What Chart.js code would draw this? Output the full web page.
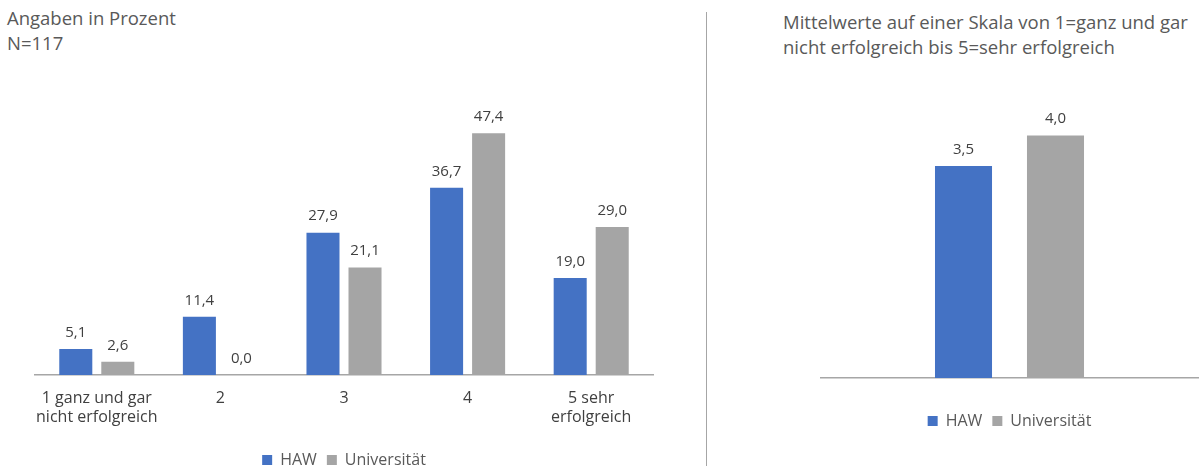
<!DOCTYPE html>
<html>
<head>
<meta charset="utf-8">
<script src="https://cdn.jsdelivr.net/npm/chart.js@4.4.1/dist/chart.umd.min.js"></script>
<style>
  html, body { margin: 0; padding: 0; background: #fff; overflow: hidden; }
  body { width: 1200px; height: 466px; position: relative; font-family: "Open Sans", sans-serif; }
  .title { position: absolute; color: #595959; font-size: 18.5px; line-height: 25px; white-space: nowrap; }
  .box { position: absolute; }
  #sep { position: absolute; left: 706px; top: 12px; width: 0; height: 460px; border-left: 1px solid #a6a6a6; }
</style>
</head>
<body>
<div class="title" style="left:7px; top:5px;">Angaben in Prozent<br>N=117</div>
<div class="title" style="left:783px; top:9px;">Mittelwerte auf einer Skala von 1=ganz und gar<br>nicht erfolgreich bis 5=sehr erfolgreich</div>
<div id="sep"></div>
<div class="box" style="left:0; top:0; width:700px; height:478px;"><canvas id="left"></canvas></div>
<div class="box" style="left:720px; top:0; width:480px; height:439px;"><canvas id="right"></canvas></div>
<script>
// Verteilung der Antworten (Prozent) und Mittelwerte
const categories = [['1 ganz und gar', 'nicht erfolgreich'], '2', '3', '4', ['5 sehr', 'erfolgreich']];
const haw = [5.1, 11.4, 27.9, 36.7, 19.0];
const uni = [2.6, 0.0, 21.1, 47.4, 29.0];
const meanLabels = [''];
const meanHaw = [3.5];
const meanUni = [4.0];

const HAW_COL = '#4472C4';
const UNI_COL = '#A5A5A5';
const TEXT = '#404040';
const FONT = '"Open Sans", sans-serif';

// draws "5,1" style labels above each bar
const valueLabels = {
  id: 'valueLabels',
  afterDatasetsDraw(chart) {
    const { ctx } = chart;
    ctx.save();
    ctx.font = '15px ' + FONT;
    ctx.fillStyle = TEXT;
    ctx.textAlign = 'center';
    ctx.textBaseline = 'bottom';
    chart.data.datasets.forEach((ds, i) => {
      chart.getDatasetMeta(i).data.forEach((bar, j) => {
        const txt = ds.data[j].toFixed(1).replace('.', ',');
        ctx.fillText(txt, bar.x, bar.y - 9);
      });
    });
    ctx.restore();
  },
};

function makeChart(canvas, labels, a, b, cfg) {
  return new Chart(canvas, {
    type: 'bar',
    data: {
      labels,
      datasets: [
        { label: 'HAW', data: a, backgroundColor: HAW_COL,
          categoryPercentage: cfg.catPct, barPercentage: cfg.barPct },
        { label: 'Universität', data: b, backgroundColor: UNI_COL,
          categoryPercentage: cfg.catPct, barPercentage: cfg.barPct },
      ],
    },
    plugins: [valueLabels],
    options: {
      responsive: true,
      maintainAspectRatio: false,
      animation: false,
      layout: { padding: cfg.padding },
      plugins: {
        legend: {
          position: 'bottom',
          labels: { color: '#595959', font: { family: FONT, size: 16 },
                    boxWidth: 10, boxHeight: 10, padding: 10 },
        },
        tooltip: { enabled: false },
      },
      scales: {
        x: {
          grid: { display: false, drawTicks: false },
          border: { display: true, color: '#a6a6a6', width: 1.5 },
          ticks: { color: TEXT, font: { family: FONT, size: 16 }, padding: 14, maxRotation: 0, autoSkip: false },
          afterFit: (s) => { s.height = cfg.xHeight; },
        },
        y: { display: false, min: 0, max: cfg.yMax },
      },
    },
  });
}

makeChart(document.getElementById('left'), categories, haw, uni, {
  catPct: 0.68, barPct: 0.786,
  padding: { left: 35, right: 47, top: 69, bottom: 0 },
  xHeight: 67, yMax: 60,
});

makeChart(document.getElementById('right'), meanLabels, meanHaw, meanUni, {
  catPct: 0.488, barPct: 0.62,
  padding: { left: 101, right: 2, top: 75, bottom: 0 },
  xHeight: 25, yMax: 5,
});
</script>
</body>
</html>
